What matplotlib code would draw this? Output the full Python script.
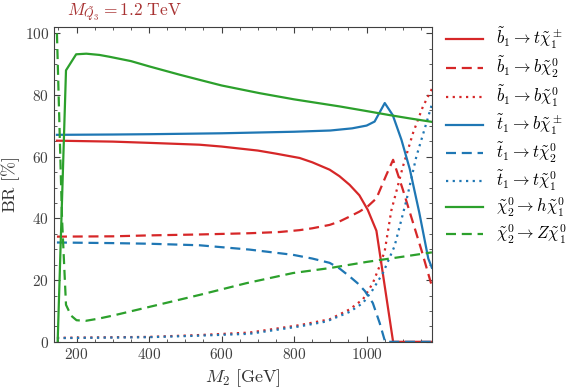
import numpy as np
import matplotlib
matplotlib.use('Agg')
import matplotlib.pyplot as plt
from matplotlib.ticker import MultipleLocator

plt.rcParams['mathtext.fontset'] = 'cm'
plt.rcParams['font.family'] = 'serif'
plt.rcParams['font.serif'] = ['cmr10']
plt.rcParams['axes.formatter.use_mathtext'] = True

# b1 -> t chi1+-
x_b1_tc = [146, 300, 400, 539, 600, 700, 750, 815, 850, 898, 925, 953, 980, 1003, 1027, 1073, 1180]
y_b1_tc = [65.2, 64.9, 64.5, 63.9, 63.3, 62.0, 61.0, 59.6, 58.2, 55.8, 53.7, 50.9, 47.5, 42.8, 36.0, 0.0, 0.0]
# b1 -> b chi2
x_b1_bn2 = [146, 300, 400, 539, 677, 760, 815, 850, 898, 925, 953, 980, 1003, 1027, 1054, 1073, 1100, 1151, 1180]
y_b1_bn2 = [34.1, 34.2, 34.5, 34.8, 35.2, 35.6, 36.2, 36.8, 37.9, 39.0, 40.6, 42.2, 43.9, 46.5, 54.0, 59.0, 49.3, 29.8, 18.0]
# b1 -> b chi1
x_b1_bn1 = [146, 400, 539, 677, 815, 898, 953, 990, 1017, 1036, 1050, 1068, 1100, 1128, 1155, 1180]
y_b1_bn1 = [1.3, 1.6, 2.2, 3.0, 5.4, 7.3, 10.5, 13.8, 19.0, 24.6, 29.5, 42.5, 56.8, 67.7, 76.2, 82.0]
# t1 -> b chi1+-
x_t1_bc = [146, 300, 400, 600, 800, 900, 960, 1000, 1022, 1050, 1072, 1096, 1119, 1145, 1170, 1180]
y_t1_bc = [67.1, 67.2, 67.3, 67.6, 68.1, 68.5, 69.2, 70.1, 71.4, 77.4, 73.5, 65.5, 56.0, 42.0, 27.0, 24.0]
# t1 -> t chi2
x_t1_tn2 = [146, 300, 400, 539, 677, 797, 850, 898, 925, 953, 975, 995, 1017, 1036, 1051, 1180]
y_t1_tn2 = [32.2, 32.0, 31.8, 31.3, 29.9, 28.2, 27.0, 25.6, 23.8, 21.2, 19.0, 16.5, 12.6, 6.1, 0.0, 0.0]
# t1 -> t chi1
x_t1_tn1 = [146, 400, 539, 677, 815, 889, 953, 990, 1017, 1045, 1077, 1110, 1137, 1165, 1180]
y_t1_tn1 = [1.2, 1.5, 2.0, 2.6, 5.0, 6.6, 9.7, 12.6, 16.9, 22.3, 31.0, 46.0, 60.0, 71.0, 77.0]
# chi2 -> h chi1
x_n2_h = [148, 171, 199, 227, 263, 291, 350, 400, 484, 550, 600, 705, 800, 926, 1000, 1063, 1120, 1180]
y_n2_h = [0.0, 88.0, 93.2, 93.4, 93.0, 92.4, 91.0, 89.3, 86.6, 84.6, 83.1, 80.6, 78.6, 76.3, 74.8, 73.5, 72.4, 71.3]
# chi2 -> Z chi1
x_n2_z = [146, 160, 171, 185, 200, 225, 260, 300, 400, 539, 668, 797, 898, 1000, 1100, 1180]
y_n2_z = [100.0, 40.0, 12.0, 8.5, 7.0, 6.8, 7.5, 8.5, 11.3, 15.2, 19.0, 22.3, 23.9, 25.9, 27.6, 29.0]

red, blue, green = '#d62728', '#1f77b4', '#2ca02c'
dash = (4.5, 2.6)
dot = (1.0, 2.0)

fig = plt.figure(figsize=(5.81, 3.88), dpi=100)
ax = fig.add_axes([0.093, 0.119, 0.651, 0.811])

lw = 1.6
ax.plot(x_b1_tc, y_b1_tc, color=red, lw=lw, ls='-', label=r'$\tilde{b}_1 \to t\tilde{\chi}_1^\pm$')
ax.plot(x_b1_bn2, y_b1_bn2, color=red, lw=lw, ls=(0, dash), label=r'$\tilde{b}_1 \to b\tilde{\chi}_2^0$')
ax.plot(x_b1_bn1, y_b1_bn1, color=red, lw=lw, ls=(0, dot), label=r'$\tilde{b}_1 \to b\tilde{\chi}_1^0$')
ax.plot(x_t1_bc, y_t1_bc, color=blue, lw=lw, ls='-', label=r'$\tilde{t}_1 \to b\tilde{\chi}_1^\pm$')
ax.plot(x_t1_tn2, y_t1_tn2, color=blue, lw=lw, ls=(0, dash), label=r'$\tilde{t}_1 \to t\tilde{\chi}_2^0$')
ax.plot(x_t1_tn1, y_t1_tn1, color=blue, lw=lw, ls=(0, dot), label=r'$\tilde{t}_1 \to t\tilde{\chi}_1^0$')
ax.plot(x_n2_h, y_n2_h, color=green, lw=lw, ls='-', label=r'$\tilde{\chi}_2^0 \to h\tilde{\chi}_1^0$')
ax.plot(x_n2_z, y_n2_z, color=green, lw=lw, ls=(0, dash), label=r'$\tilde{\chi}_2^0 \to Z\tilde{\chi}_1^0$')

ax.set_xlim(138, 1181)
ax.set_ylim(0, 102)
ax.xaxis.set_major_locator(MultipleLocator(200))
ax.xaxis.set_minor_locator(MultipleLocator(50))
ax.yaxis.set_major_locator(MultipleLocator(20))
ax.yaxis.set_minor_locator(MultipleLocator(5))
ax.tick_params(which='both', direction='in', top=True, right=True, colors='0.25', labelsize=11)
ax.tick_params(which='major', length=4)
ax.tick_params(which='minor', length=2)
for s in ax.spines.values():
    s.set_color('0.25')

ax.set_xlabel(r'$M_2\ [\mathrm{GeV}]$', fontsize=13, color='0.2')
ax.set_ylabel(r'$\mathrm{BR}\ [\%]$', fontsize=13, color='0.2', labelpad=2)
ax.text(0.035, 1.044, r'$M_{\tilde{Q}_3} = 1.2\ \mathrm{TeV}$', transform=ax.transAxes,
        color='#a83232', fontsize=12.5, va='center', ha='left')

fig.legend(loc='upper left', bbox_to_anchor=(0.742, 0.972), frameon=False, fontsize=12,
           handlelength=2.2, handletextpad=0.8, labelspacing=0.22)

fig.savefig('out.png', dpi=100)
